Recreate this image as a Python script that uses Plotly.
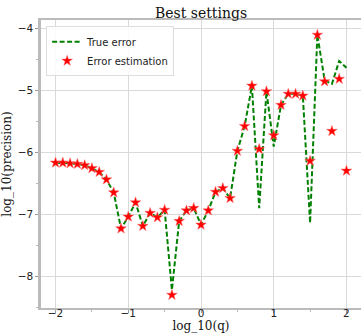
import plotly.graph_objects as go

# log10(q) sample points
log_q = [-2.0, -1.9, -1.8, -1.7, -1.6, -1.5, -1.4, -1.3, -1.2, -1.1,
         -1.0, -0.9, -0.8, -0.7, -0.6, -0.5, -0.4, -0.3, -0.2, -0.1,
         0.0, 0.1, 0.2, 0.3, 0.4, 0.5, 0.6, 0.7, 0.8, 0.9,
         1.0, 1.1, 1.2, 1.3, 1.4, 1.5, 1.6, 1.7, 1.8, 1.9, 2.0]

# log10(precision) of the true error
true_error = [-6.17, -6.17, -6.18, -6.19, -6.21, -6.26, -6.32, -6.44, -6.65, -7.23,
              -7.04, -6.81, -7.19, -6.98, -7.05, -6.93, -8.22, -7.11, -6.94, -6.90,
              -7.17, -6.94, -6.64, -6.58, -6.74, -5.98, -5.58, -4.93, -6.90, -5.02,
              -5.91, -5.24, -5.06, -5.06, -5.09, -7.14, -4.11, -4.84, -4.90, -4.53, -4.64]

# log10(precision) of the estimated error
error_estimation = [-6.17, -6.17, -6.18, -6.19, -6.21, -6.26, -6.32, -6.44, -6.65, -7.23,
                    -7.04, -6.81, -7.19, -6.98, -7.05, -6.93, -8.30, -7.11, -6.94, -6.90,
                    -7.17, -6.94, -6.64, -6.58, -6.74, -5.98, -5.58, -4.93, -5.95, -5.02,
                    -5.73, -5.24, -5.06, -5.06, -5.09, -6.14, -4.11, -4.86, -5.66, -4.82, -6.30]

x_ticks = [-2, -1, 0, 1, 2]
y_ticks = [-8, -7, -6, -5, -4]

fig = go.Figure()
fig.add_trace(go.Scatter(
    x=log_q, y=true_error, mode="lines", name="True error",
    line=dict(color="#008000", width=2, dash="5px,2.5px"),
))
fig.add_trace(go.Scatter(
    x=log_q, y=error_estimation, mode="markers", name="Error estimation",
    marker=dict(symbol="star", size=8, color="#ff0000",
                line=dict(width=0.5, color="#ff6666")),
))

axis_common = dict(
    showgrid=True, gridcolor="#d9d9d9", gridwidth=1,
    zeroline=False, ticks="outside", ticklen=3, tickcolor="#999999",
    tickfont=dict(family="DejaVu Sans", size=10.5, color="#222222"),
    linecolor="#bbbbbb", automargin=False,
)

fig.update_layout(
    width=361, height=336,
    margin=dict(l=41, r=0, t=20, b=28),
    paper_bgcolor="white", plot_bgcolor="white",
    title=dict(text="Best settings", x=0.5, xref="paper", xanchor="center",
               y=0.962, yanchor="middle",
               font=dict(family="DejaVu Serif", size=14, color="#111111")),
    xaxis=dict(
        axis_common, range=[-2.2, 2.2], tickvals=x_ticks,
        showline=True, linewidth=1.5, mirror=True, ticklabelstandoff=-8,
        minor=dict(dtick=0.5, tick0=0, ticks="outside", ticklen=2,
                   tickcolor="#bbbbbb", showgrid=False),
        title=dict(text="log_10(q)", standoff=0,
                   font=dict(family="DejaVu Serif", size=12, color="#111111")),
    ),
    yaxis=dict(
        axis_common, range=[-8.51, -3.87], tickvals=y_ticks,
        showline=True, linewidth=2.5, mirror=False,
        minor=dict(dtick=0.5, tick0=0, ticks="outside", ticklen=2,
                   tickcolor="#bbbbbb", showgrid=False),
        title=dict(text="log_10(precision)", standoff=4,
                   font=dict(family="DejaVu Serif", size=12, color="#111111")),
    ),
    legend=dict(
        x=0.016, y=0.978, xanchor="left", yanchor="top",
        bgcolor="rgba(255,255,255,0.85)", bordercolor="#dddddd", borderwidth=1,
        font=dict(family="DejaVu Sans", size=10, color="#222222"),
        tracegroupgap=0, itemwidth=30,
    ),
    showlegend=True,
)

fig.write_html("out.html")
